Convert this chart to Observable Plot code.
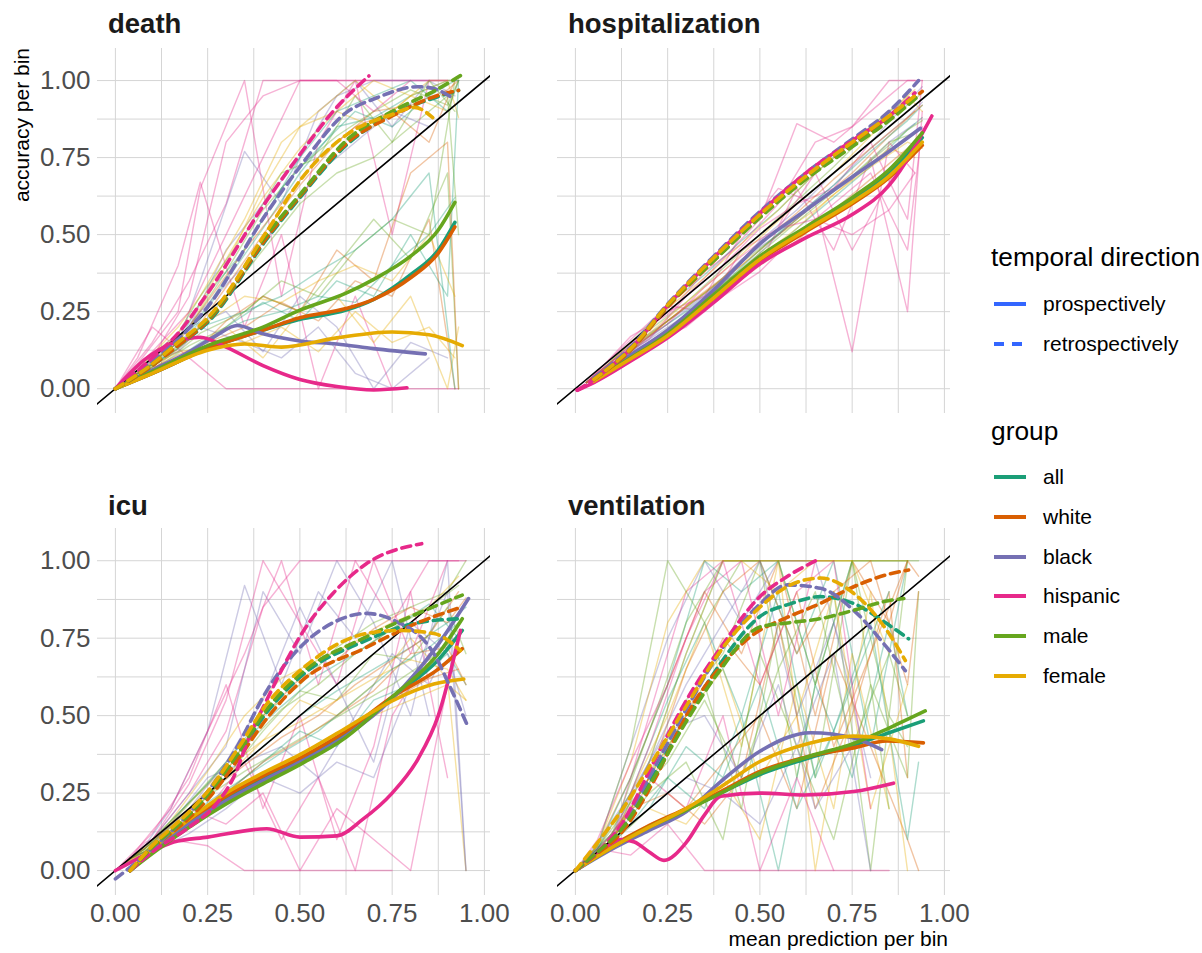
<!DOCTYPE html>
<html><head><meta charset="utf-8">
<script src="https://cdn.jsdelivr.net/npm/d3@7"></script>
<script src="https://cdn.jsdelivr.net/npm/@observablehq/plot@0.6"></script>
<style>
body{margin:0;background:#fff;font-family:"Liberation Sans",Arial,sans-serif}
#root{position:relative;width:1202px;height:953px;overflow:hidden;background:#fff}
.panel{position:absolute}
#overlay{position:absolute;left:0;top:0;pointer-events:none}
</style></head><body><div id="root"></div>
<script>
// ---------- categories / labels ----------
const groups = ["all","white","black","hispanic","male","female"];
const groupColors = ["#1B9E77","#D95F02","#7570B3","#E7298A","#66A61E","#E6AB02"];
const directions = ["prospectively","retrospectively"];
const outcomes = ["death","hospitalization","icu","ventilation"];
const tickValues = [0,0.25,0.5,0.75,1];
const tickLabels = ["0.00","0.25","0.50","0.75","1.00"];
const gridValues = [0,0.125,0.25,0.375,0.5,0.625,0.75,0.875,1];
const diagonal = [[-0.2,-0.2],[1.2,1.2]];
const xLabel = "mean prediction per bin";
const yLabel = "accuracy per bin";
const legendTitleDir = "temporal direction";
const legendTitleGroup = "group";

// ---------- thin per-model calibration curves (bins) ----------
const deathBins = {a:[0,0.1,0.2,0.3,0.4,0.5,0.6,0.7,0.8,0.9,0.93], b:[0,0.06,0.17,0.23,0.35,0.45,0.55,0.65,0.75,0.85,0.92]};
const deathThin = [
 ["hispanic","a",[0,0.15,0.35,0.6,1,1,1,1,1,1,null]],
 ["hispanic","a",[0,0.1,0.3,0.8,0.95,1,1,1,1,null,null]],
 ["hispanic","a",[0,0.2,0.1,0,0,0,0,0,0,0,0]],
 ["hispanic","b",[0,0.1,0.4,0.67,0.2,0.5,0,0.3,0,null,null]],
 ["hispanic","b",[0,0.08,0.25,0.65,1,0.3,0.8,1,0.5,1,null]],
 ["black","b",[0,0.05,0.15,0.35,0.77,0.6,0.9,1,0.85,1,0.95]],
 ["black","a",[0,0.1,0.2,0.25,0.12,0.3,0.2,0,0.15,0.1,null]],
 ["black","a",[0,0.08,0.2,0.45,0.6,0.75,0.95,1,1,1,1]],
 ["all","a",[0,0.07,0.17,0.35,0.52,0.7,0.85,0.88,0.95,1,1]],
 ["all","b",[0,0.04,0.1,0.15,0.22,0.25,0.3,0.28,0.4,0.5,0.62]],
 ["white","a",[0,0.06,0.16,0.33,0.5,0.66,0.8,0.9,0.92,0.97,1]],
 ["white","b",[0,0.04,0.11,0.14,0.2,0.28,0.22,0.35,0.3,0.55,0]],
 ["male","a",[0,0.08,0.2,0.38,0.58,0.72,0.82,0.9,0.97,0.92,1]],
 ["male","b",[0,0.05,0.12,0.18,0.25,0.35,0.3,0.45,0.55,0.5,1]],
 ["male","a",[0,0.06,0.14,0.2,0.3,0.25,0.4,0.55,0.42,0.7,0]],
 ["female","a",[0,0.09,0.22,0.42,0.62,0.78,0.9,0.85,0.95,1,0.88]],
 ["female","b",[0,0.05,0.12,0.13,0.15,0.2,0.12,0.25,0.15,0.2,0.1]],
 ["female","a",[0,0.05,0.12,0.2,0.1,0.25,0.3,0.15,0.3,0,0.2]],
 ["female","b",[0,0.06,0.2,0.3,0.55,0.8,0.9,1,0.9,1,1]],
 ["all","a",[0,0.06,0.12,0.2,0.28,0.22,0.35,0.3,0.5,0.3,1]],
 ["white","a",[0,0.07,0.1,0.22,0.3,0.25,0.45,0.35,0.7,0.8,0]],
 ["male","b",[0,0.07,0.18,0.3,0.5,0.7,0.75,0.95,0.8,1,0.9]],
 ["all","b",[0,0.06,0.15,0.28,0.45,0.65,0.78,0.9,0.85,0.95,1]],
 ["black","b",[0,0.07,0.12,0.2,0.15,0.1,0.2,0.05,0,0.1,null]],
 ["female","a",[0,0.08,0.2,0.4,0.65,0.85,0.9,1,0.95,0.9,1]],
 ["all","a",[0,0.08,0.18,0.36,0.55,0.75,0.9,0.95,1,0.9,1]],
 ["white","b",[0,0.05,0.15,0.25,0.45,0.6,0.75,0.85,0.9,0.8,1]],
 ["male","a",[0,0.07,0.16,0.3,0.45,0.6,0.7,0.75,0.85,0.95,0.5]],
 ["female","b",[0,0.05,0.14,0.2,0.3,0.28,0.35,0.4,0.35,0.5,0.3]],
 ["all","b",[0,0.05,0.13,0.2,0.25,0.3,0.38,0.45,0.55,0.7,0]],
 ["hispanic","a",[0,0.12,0.25,0.5,0.75,1,1,0.9,1,1,null]],
 ["black","b",[0,0.06,0.16,0.25,0.4,0.55,0.7,0.8,0.9,0.85,null]]
];

const hospBins = {a:[0.03,0.1,0.2,0.3,0.4,0.5,0.6,0.7,0.8,0.9,0.94], b:[0.03,0.08,0.15,0.25,0.35,0.45,0.55,0.65,0.75,0.85,0.92]};
const hospThin = [
 ["all","a",[0.02,0.07,0.14,0.23,0.31,0.41,0.52,0.62,0.72,0.84,0.88]],
 ["white","b",[0.02,0.06,0.12,0.22,0.31,0.4,0.5,0.6,0.7,0.82,0.9]],
 ["male","a",[0.02,0.09,0.19,0.28,0.39,0.5,0.61,0.72,0.84,0.92,0.96]],
 ["female","b",[0.02,0.06,0.13,0.22,0.31,0.4,0.5,0.58,0.68,0.78,0.75]],
 ["black","a",[0.02,0.08,0.18,0.26,0.35,0.48,0.58,0.7,0.8,0.93,0.98]],
 ["black","b",[0.02,0.06,0.12,0.21,0.3,0.42,0.5,0.6,0.68,0.8,0.86]],
 ["hispanic","a",[0.02,0.09,0.2,0.3,0.42,0.55,0.86,0.8,0.9,1,1]],
 ["hispanic","b",[0.02,0.07,0.14,0.25,0.3,0.5,0.65,0.6,0.12,0.8,0.7]],
 ["hispanic","a",[0.02,0.07,0.14,0.22,0.35,0.4,0.65,0.45,0.75,0.25,0.9]],
 ["hispanic","b",[0.02,0.08,0.16,0.27,0.25,0.45,0.52,0.7,0.45,0.67,0.8]],
 ["all","b",[0.02,0.07,0.15,0.27,0.37,0.48,0.58,0.7,0.8,0.9,0.95]],
 ["white","a",[0.02,0.07,0.13,0.21,0.31,0.4,0.48,0.58,0.68,0.78,0.82]],
 ["female","a",[0.02,0.08,0.18,0.28,0.38,0.49,0.6,0.7,0.82,0.95,0.9]],
 ["male","b",[0.02,0.06,0.13,0.22,0.31,0.41,0.5,0.6,0.69,0.8,0.83]],
 ["hispanic","a",[0.02,0.09,0.16,0.3,0.4,0.52,0.6,0.65,0.8,0.55,1]],
 ["hispanic","b",[0.02,0.08,0.17,0.24,0.38,0.47,0.6,0.8,0.85,1,1]],
 ["black","a",[0.02,0.08,0.16,0.24,0.33,0.44,0.56,0.66,0.78,0.88,0.93]],
 ["all","a",[0.02,0.08,0.17,0.25,0.34,0.45,0.56,0.66,0.77,0.87,0.92]],
 ["female","b",[0.02,0.07,0.15,0.26,0.36,0.47,0.58,0.7,0.8,0.9,0.97]],
 ["hispanic","a",[0.02,0.08,0.15,0.2,0.3,0.38,0.5,0.6,0.7,0.45,0.85]],
 ["white","a",[0.02,0.08,0.17,0.27,0.36,0.47,0.57,0.68,0.78,0.88,0.92]],
 ["male","a",[0.02,0.07,0.15,0.24,0.34,0.44,0.54,0.64,0.74,0.84,0.87]],
 ["female","a",[0.02,0.07,0.14,0.23,0.33,0.43,0.52,0.63,0.72,0.8,0.78]],
 ["hispanic","b",[0.02,0.07,0.13,0.21,0.33,0.43,0.52,0.55,0.5,0.58,0.7]]
];

const icuBins = {a:[0,0.1,0.2,0.3,0.4,0.5,0.6,0.7,0.8,0.9,0.95], b:[0.04,0.08,0.15,0.25,0.35,0.45,0.55,0.65,0.75,0.85,0.93]};
const icuThin = [
 ["hispanic","a",[0,0.1,0.25,0.45,0.85,1,1,1,1,1,null]],
 ["hispanic","b",[0.04,0.06,0.1,0.08,0,0,0,0,0,null,null]],
 ["hispanic","a",[0,0.12,0.3,0.6,0.2,0.5,0.1,0.4,0.9,0.3,null]],
 ["black","a",[0,0.1,0.25,0.4,0.9,0.7,1,0.8,0.5,1,0]],
 ["black","b",[0.04,0.06,0.15,0.3,0.35,0.4,0.3,0.5,0.7,0.6,0.8]],
 ["all","a",[0,0.09,0.2,0.3,0.4,0.5,0.58,0.65,0.72,0.8,0.85]],
 ["white","b",[0.04,0.06,0.14,0.25,0.34,0.43,0.5,0.6,0.68,0.76,0.9]],
 ["female","a",[0,0.09,0.22,0.33,0.42,0.55,0.5,0.6,0.75,0.62,0]],
 ["male","a",[0,0.1,0.22,0.35,0.5,0.6,0.72,0.8,0.85,0.9,1]],
 ["male","b",[0.04,0.06,0.14,0.24,0.32,0.39,0.46,0.53,0.6,0.68,0.76]],
 ["female","b",[0.04,0.07,0.16,0.32,0.5,0.62,0.68,0.74,0.8,0.85,0.95]],
 ["all","b",[0.04,0.07,0.16,0.28,0.42,0.53,0.63,0.7,0.78,0.86,0.75]],
 ["hispanic","b",[0.04,0.09,0.13,0.2,0.35,0.1,0.3,0,0.5,0.7,null]],
 ["black","b",[0.04,0.08,0.2,0.45,0.92,0.6,0.9,0.75,1,0.5,null]],
 ["white","a",[0,0.09,0.2,0.32,0.5,0.62,0.68,0.78,0.85,0.8,0.88]],
 ["female","a",[0,0.07,0.15,0.22,0.3,0.35,0.42,0.5,0.55,0.6,0.55]],
 ["hispanic","a",[0,0.1,0.2,0.15,0.25,0,0.2,0.1,0,0.6,null]],
 ["male","a",[0,0.08,0.18,0.3,0.45,0.58,0.55,0.7,0.68,0.85,0.7]],
 ["all","a",[0,0.07,0.16,0.25,0.35,0.45,0.4,0.55,0.6,0.7,0.6]],
 ["hispanic","b",[0.04,0.1,0.2,0.45,0.7,1,0.6,1,0.8,1,1]],
 ["black","a",[0,0.06,0.12,0.2,0.3,0.25,0.35,0.3,0.6,0.9,0]],
 ["white","b",[0.04,0.05,0.12,0.2,0.27,0.33,0.4,0.48,0.55,0.62,0.65]],
 ["female","a",[0,0.08,0.18,0.3,0.42,0.48,0.55,0.62,0.68,0.65,0.55]],
 ["male","b",[0.04,0.07,0.15,0.28,0.4,0.52,0.6,0.7,0.78,0.85,0.92]],
 ["white","a",[0,0.07,0.15,0.25,0.35,0.42,0.5,0.58,0.7,0.72,0.6]],
 ["all","b",[0.04,0.06,0.12,0.22,0.3,0.38,0.45,0.55,0.65,0.72,0.8]],
 ["black","a",[0,0.1,0.2,0.35,0.55,0.85,0.6,0.35,0.8,0.7,0.5]],
 ["hispanic","a",[0,0.1,0.28,0.55,1,0.8,0.6,1,0.7,1,1]]
];

const ventBins = {a:[0,0.1,0.2,0.3,0.4,0.5,0.6,0.7,0.8,0.9,0.93], b:[0,0.06,0.15,0.25,0.35,0.45,0.55,0.65,0.75,0.85,0.9]};
const ventThin = [
 ["hispanic","a",[0,0.1,0.5,0.9,1,1,1,1,null,null,null]],
 ["black","b",[0,0.08,0.4,0.75,1,0.8,1,1,0.6,null,null]],
 ["all","a",[0,0.1,0.35,0.7,1,1,0.7,1,0.4,1,null]],
 ["white","b",[0,0.08,0.3,0.6,0.9,0.7,1,0.5,1,0.8,1]],
 ["male","a",[0,0.1,0.3,0.55,0.7,1,0.3,0.9,0,1,1]],
 ["female","b",[0,0.07,0.25,0.5,0.8,0.4,1,0,0.7,0.2,null]],
 ["male","b",[0,0.06,0.2,0.4,0.6,0.2,0.8,0.3,1,0.5,0.4]],
 ["all","b",[0,0.05,0.15,0.3,0.2,0.5,0,0.6,0.3,0.8,0.5]],
 ["hispanic","b",[0,0.07,0.05,0.15,0,0,0,0,0,0,null]],
 ["hispanic","a",[0,0.12,0.3,0.2,0.5,0,0.3,0,null,null,null]],
 ["white","a",[0,0.08,0.15,0.2,0.35,0.5,0.2,0.7,0.4,0.1,0]],
 ["female","a",[0,0.09,0.2,0.15,0.3,0.1,0.6,0.2,0.9,0,null]],
 ["male","a",[0,0.1,0.25,0.35,0.1,0.7,0.4,0.1,0.6,0.3,0.9]],
 ["all","b",[0,0.07,0.3,0.6,1,0.9,1,0.6,1,1,1]],
 ["black","a",[0,0.1,0.2,0.3,0.25,0.15,0.4,0.7,0,null,null]],
 ["female","b",[0,0.08,0.35,0.8,1,1,0.9,1,1,0.7,null]],
 ["white","b",[0,0.06,0.2,0.25,0.15,0.3,0.8,0.2,0.5,0.9,0.3]],
 ["male","b",[0,0.08,0.4,1,0.8,1,1,0.6,1,0.2,null]],
 ["male","a",[0,0.12,0.45,0.8,1,1,1,1,1,1,null]],
 ["all","a",[0,0.09,0.2,0.4,0.3,0.6,0.2,0.45,0.8,0.1,0.35]],
 ["female","a",[0,0.1,0.3,0.5,0.65,0.3,0.5,0.9,0.2,0.6,null]],
 ["hispanic","b",[0,0.1,0.35,0.6,0.9,1,0.5,1,null,null,null]],
 ["white","a",[0,0.1,0.28,0.5,0.75,0.6,0.9,0.4,0.7,1,0.95]],
 ["black","b",[0,0.09,0.25,0.45,0.5,0.3,0.6,0.2,0.4,null,null]],
 ["female","a",[0,0.1,0.35,0.7,1,1,1,1,1,1,null]],
 ["all","b",[0,0.07,0.25,0.55,0.8,0.5,0.9,0.3,0.6,0.9,null]],
 ["male","b",[0,0.07,0.22,0.35,0.55,0.3,0.65,0.9,0.4,0.7,0.5]],
 ["white","a",[0,0.1,0.3,0.65,0.9,1,0.7,0.9,1,0.6,0.9]],
 ["hispanic","a",[0,0.1,0.4,0.75,1,0.6,0.9,1,0.2,null,null]],
 ["black","a",[0,0.12,0.35,0.6,0.8,1,0.5,0.8,0.3,null,null]]
];

// ---------- smoothed group curves ----------
const deathSmooth = [
 ["all","prospectively",[[0,0],[0.1,0.05],[0.25,0.13],[0.4,0.19],[0.5,0.225],[0.625,0.255],[0.7,0.29],[0.8,0.37],[0.875,0.45],[0.92,0.54]]],
 ["white","prospectively",[[0,0],[0.1,0.05],[0.25,0.13],[0.4,0.19],[0.5,0.23],[0.625,0.26],[0.7,0.29],[0.8,0.36],[0.875,0.44],[0.92,0.525]]],
 ["black","prospectively",[[0,0],[0.1,0.06],[0.2,0.12],[0.27,0.17],[0.33,0.205],[0.4,0.178],[0.5,0.155],[0.6,0.145],[0.7,0.13],[0.84,0.113]]],
 ["hispanic","prospectively",[[0,0],[0.08,0.095],[0.15,0.145],[0.23,0.167],[0.3,0.135],[0.4,0.075],[0.5,0.03],[0.6,0.007],[0.7,-0.004],[0.79,0.003]]],
 ["male","prospectively",[[0,0],[0.1,0.055],[0.25,0.14],[0.4,0.2],[0.5,0.255],[0.625,0.31],[0.7,0.355],[0.8,0.43],[0.875,0.515],[0.92,0.605]]],
 ["female","prospectively",[[0,0],[0.1,0.05],[0.25,0.125],[0.35,0.145],[0.45,0.135],[0.6,0.165],[0.75,0.184],[0.85,0.175],[0.94,0.14]]],
 ["all","retrospectively",[[0,0],[0.1,0.075],[0.17,0.14],[0.25,0.215],[0.41,0.485],[0.5,0.62],[0.63,0.795],[0.75,0.89],[0.87,0.946],[0.93,0.968]]],
 ["white","retrospectively",[[0,0],[0.1,0.075],[0.17,0.14],[0.25,0.22],[0.41,0.49],[0.5,0.625],[0.63,0.8],[0.75,0.885],[0.87,0.95],[0.93,0.968]]],
 ["black","retrospectively",[[0,0],[0.1,0.09],[0.17,0.16],[0.25,0.265],[0.41,0.57],[0.5,0.72],[0.63,0.9],[0.7,0.94],[0.82,0.98],[0.86,0.975],[0.91,0.946]]],
 ["hispanic","retrospectively",[[0,0],[0.1,0.1],[0.17,0.18],[0.25,0.31],[0.41,0.61],[0.5,0.76],[0.59,0.9],[0.687,1.015]]],
 ["male","retrospectively",[[0,0],[0.1,0.08],[0.17,0.15],[0.25,0.225],[0.41,0.5],[0.5,0.63],[0.63,0.81],[0.75,0.9],[0.87,0.97],[0.935,1.016]]],
 ["female","retrospectively",[[0,0],[0.1,0.08],[0.17,0.15],[0.25,0.23],[0.41,0.51],[0.5,0.675],[0.63,0.827],[0.75,0.89],[0.81,0.913],[0.86,0.88]]]
];
const hospSmooth = [
 ["all","prospectively",[[0.05,0.025],[0.15,0.1],[0.25,0.175],[0.375,0.3],[0.5,0.425],[0.625,0.52],[0.75,0.61],[0.85,0.7],[0.94,0.815]]],
 ["white","prospectively",[[0.05,0.022],[0.15,0.095],[0.25,0.17],[0.375,0.29],[0.5,0.415],[0.625,0.51],[0.75,0.6],[0.85,0.685],[0.94,0.79]]],
 ["black","prospectively",[[0.05,0.03],[0.15,0.11],[0.25,0.19],[0.375,0.32],[0.5,0.47],[0.625,0.58],[0.75,0.687],[0.85,0.77],[0.935,0.845]]],
 ["hispanic","prospectively",[[0.005,-0.005],[0.05,0.02],[0.15,0.09],[0.25,0.165],[0.375,0.28],[0.5,0.405],[0.625,0.49],[0.75,0.565],[0.85,0.66],[0.966,0.885]]],
 ["male","prospectively",[[0.05,0.028],[0.15,0.1],[0.25,0.178],[0.375,0.305],[0.5,0.43],[0.625,0.525],[0.75,0.62],[0.85,0.71],[0.94,0.83]]],
 ["female","prospectively",[[0.05,0.024],[0.15,0.097],[0.25,0.172],[0.375,0.295],[0.5,0.42],[0.625,0.515],[0.75,0.605],[0.85,0.69],[0.94,0.8]]],
 ["all","retrospectively",[[0.05,0.03],[0.15,0.13],[0.25,0.27],[0.375,0.42],[0.5,0.565],[0.625,0.69],[0.75,0.795],[0.85,0.88],[0.93,0.955]]],
 ["white","retrospectively",[[0.05,0.03],[0.15,0.125],[0.25,0.265],[0.375,0.415],[0.5,0.56],[0.625,0.685],[0.75,0.79],[0.85,0.88],[0.94,0.965]]],
 ["black","retrospectively",[[0.05,0.035],[0.15,0.135],[0.25,0.275],[0.375,0.43],[0.5,0.575],[0.625,0.7],[0.75,0.81],[0.85,0.9],[0.93,1.0]]],
 ["hispanic","retrospectively",[[0.005,-0.005],[0.05,0.03],[0.15,0.13],[0.25,0.27],[0.375,0.425],[0.5,0.57],[0.625,0.7],[0.75,0.805],[0.85,0.885],[0.92,0.96]]],
 ["male","retrospectively",[[0.05,0.03],[0.15,0.13],[0.25,0.27],[0.375,0.415],[0.5,0.555],[0.625,0.68],[0.75,0.785],[0.85,0.87],[0.93,0.95]]],
 ["female","retrospectively",[[0.05,0.03],[0.15,0.13],[0.25,0.272],[0.375,0.425],[0.5,0.565],[0.625,0.69],[0.75,0.8],[0.85,0.885],[0.93,0.96]]]
];
const icuSmooth = [
 ["all","prospectively",[[0.04,0],[0.1,0.06],[0.2,0.15],[0.3,0.23],[0.4,0.3],[0.5,0.355],[0.625,0.44],[0.75,0.56],[0.875,0.68],[0.94,0.775]]],
 ["white","prospectively",[[0.04,0],[0.1,0.065],[0.2,0.16],[0.3,0.24],[0.4,0.305],[0.5,0.363],[0.625,0.45],[0.75,0.56],[0.875,0.65],[0.94,0.716]]],
 ["black","prospectively",[[0.04,0],[0.1,0.06],[0.2,0.15],[0.3,0.225],[0.4,0.29],[0.5,0.35],[0.625,0.435],[0.75,0.555],[0.875,0.73],[0.957,0.878]]],
 ["hispanic","prospectively",[[0,0],[0.08,0.05],[0.158,0.092],[0.25,0.108],[0.41,0.135],[0.5,0.108],[0.6,0.112],[0.67,0.165],[0.75,0.25],[0.82,0.36],[0.875,0.5],[0.935,0.775]]],
 ["male","prospectively",[[0.04,0],[0.1,0.055],[0.2,0.14],[0.3,0.215],[0.4,0.28],[0.5,0.342],[0.625,0.43],[0.75,0.56],[0.875,0.7],[0.94,0.813]]],
 ["female","prospectively",[[0.04,0],[0.1,0.07],[0.2,0.165],[0.3,0.25],[0.4,0.315],[0.5,0.374],[0.625,0.46],[0.75,0.548],[0.863,0.602],[0.944,0.618]]],
 ["all","retrospectively",[[0.04,0],[0.1,0.075],[0.2,0.18],[0.25,0.24],[0.33,0.37],[0.41,0.51],[0.5,0.624],[0.68,0.743],[0.82,0.8],[0.94,0.813]]],
 ["white","retrospectively",[[0.04,0],[0.1,0.07],[0.2,0.17],[0.25,0.23],[0.33,0.355],[0.41,0.49],[0.5,0.607],[0.68,0.72],[0.82,0.8],[0.94,0.851]]],
 ["black","retrospectively",[[0,-0.027],[0.1,0.07],[0.2,0.185],[0.25,0.255],[0.33,0.4],[0.41,0.58],[0.5,0.72],[0.59,0.8],[0.68,0.83],[0.75,0.81],[0.863,0.7],[0.908,0.59],[0.957,0.46]]],
 ["hispanic","retrospectively",[[0.04,0],[0.1,0.06],[0.2,0.14],[0.27,0.21],[0.32,0.3],[0.366,0.44],[0.41,0.55],[0.456,0.66],[0.5,0.755],[0.59,0.895],[0.68,0.99],[0.83,1.055]]],
 ["male","retrospectively",[[0.04,0],[0.1,0.075],[0.2,0.18],[0.25,0.245],[0.33,0.375],[0.41,0.52],[0.5,0.633],[0.68,0.754],[0.82,0.83],[0.94,0.889]]],
 ["female","retrospectively",[[0.04,0],[0.1,0.08],[0.2,0.19],[0.25,0.255],[0.33,0.39],[0.41,0.537],[0.5,0.645],[0.68,0.765],[0.77,0.775],[0.863,0.765],[0.935,0.71]]]
];
const ventSmooth = [
 ["all","prospectively",[[0,0],[0.1,0.075],[0.2,0.14],[0.3,0.195],[0.394,0.25],[0.5,0.31],[0.637,0.365],[0.754,0.405],[0.85,0.445],[0.943,0.483]]],
 ["white","prospectively",[[0,0],[0.1,0.08],[0.2,0.145],[0.3,0.2],[0.394,0.255],[0.5,0.32],[0.637,0.37],[0.754,0.396],[0.844,0.418],[0.943,0.412]]],
 ["black","prospectively",[[0,0],[0.1,0.07],[0.2,0.13],[0.3,0.19],[0.394,0.287],[0.5,0.385],[0.637,0.445],[0.754,0.428],[0.83,0.39]]],
 ["hispanic","prospectively",[[0,0],[0.06,0.05],[0.123,0.1],[0.16,0.092],[0.2,0.06],[0.24,0.033],[0.3,0.09],[0.35,0.18],[0.394,0.24],[0.5,0.25],[0.62,0.244],[0.754,0.255],[0.862,0.282]]],
 ["male","prospectively",[[0,0],[0.1,0.075],[0.2,0.14],[0.3,0.195],[0.394,0.25],[0.5,0.315],[0.637,0.37],[0.754,0.41],[0.85,0.46],[0.948,0.515]]],
 ["female","prospectively",[[0,0],[0.1,0.075],[0.2,0.14],[0.3,0.2],[0.394,0.27],[0.5,0.352],[0.637,0.412],[0.754,0.434],[0.85,0.425],[0.93,0.401]]],
 ["all","retrospectively",[[0,0],[0.06,0.06],[0.123,0.13],[0.213,0.31],[0.3,0.49],[0.394,0.67],[0.5,0.82],[0.58,0.86],[0.664,0.884],[0.754,0.862],[0.844,0.797],[0.903,0.748]]],
 ["white","retrospectively",[[0,0],[0.06,0.055],[0.123,0.12],[0.213,0.29],[0.3,0.5],[0.394,0.66],[0.48,0.76],[0.58,0.82],[0.664,0.862],[0.754,0.916],[0.844,0.955],[0.903,0.97]]],
 ["black","retrospectively",[[0,0],[0.06,0.06],[0.123,0.14],[0.213,0.33],[0.3,0.52],[0.394,0.71],[0.5,0.86],[0.574,0.922],[0.664,0.911],[0.754,0.84],[0.844,0.72],[0.894,0.645]]],
 ["hispanic","retrospectively",[[0,0],[0.06,0.06],[0.123,0.146],[0.213,0.352],[0.3,0.548],[0.394,0.72],[0.5,0.884],[0.574,0.949],[0.66,1.005]]],
 ["male","retrospectively",[[0,0],[0.06,0.06],[0.123,0.13],[0.213,0.3],[0.3,0.48],[0.394,0.65],[0.5,0.786],[0.58,0.8],[0.664,0.813],[0.754,0.84],[0.844,0.87],[0.89,0.878]]],
 ["female","retrospectively",[[0,0],[0.06,0.09],[0.123,0.19],[0.213,0.36],[0.3,0.53],[0.394,0.71],[0.5,0.85],[0.58,0.92],[0.664,0.944],[0.754,0.895],[0.844,0.775],[0.894,0.678]]]
];

// ---------- layout (not data) ----------
const FONT = '"Liberation Sans", Arial, sans-serif';
const xDomain = [-0.0485, 1.0165];
const yDomain = [-0.0805, 1.104];
const panels = [
  {name:"death", bins:deathBins, thin:deathThin, smooth:deathSmooth, left:0, top:0, width:500, height:420, ml:97, mr:10, mt:48, mb:7, xAxis:false, yAxis:true, tx:108, ty:33},
  {name:"hospitalization", bins:hospBins, thin:hospThin, smooth:hospSmooth, left:520, top:0, width:440, height:420, ml:37, mr:10, mt:48, mb:7, xAxis:false, yAxis:false, tx:568, ty:33},
  {name:"icu", bins:icuBins, thin:icuThin, smooth:icuSmooth, left:0, top:470, width:500, height:483, ml:97, mr:10, mt:58, mb:58, xAxis:true, yAxis:true, tx:108, ty:515},
  {name:"ventilation", bins:ventBins, thin:ventThin, smooth:ventSmooth, left:520, top:470, width:440, height:483, ml:37, mr:10, mt:58, mb:58, xAxis:true, yAxis:false, tx:568, ty:515}
];

const root = document.getElementById("root");
const fmt = d => tickLabels[tickValues.indexOf(d)];

for (const P of panels) {
  const thinData = [];
  P.thin.forEach(([g, grid, ys], i) => ys.forEach((y, j) => thinData.push({id: i, g, x: P.bins[grid][j], y})));
  const smoothData = [];
  P.smooth.forEach(([g, d, pts], i) => pts.forEach(([x, y]) => smoothData.push({id: i, g, d, x, y})));
  const marks = [
    Plot.ruleX(gridValues, {stroke: "#d5d5d5", strokeWidth: 1}),
    Plot.ruleY(gridValues, {stroke: "#d5d5d5", strokeWidth: 1}),
    Plot.line(thinData, {x: "x", y: "y", z: "id", stroke: "g", strokeWidth: 1.4, strokeOpacity: 0.36}),
    Plot.line(diagonal, {x: d => d[0], y: d => d[1], stroke: "#000", strokeWidth: 1.6, clip: true}),
    Plot.line(smoothData.filter(d => d.d === directions[0]), {x: "x", y: "y", z: "id", stroke: "g", strokeWidth: 3.6, curve: "monotone-x"}),
    Plot.line(smoothData.filter(d => d.d === directions[1]), {x: "x", y: "y", z: "id", stroke: "g", strokeWidth: 3.6, strokeDasharray: "9,6", curve: "monotone-x"})
  ];
  if (P.yAxis) marks.push(Plot.axisY(tickValues, {tickSize: 0, tickPadding: 7, tickFormat: fmt, fontSize: 26, label: null}));
  if (P.xAxis) marks.push(Plot.axisX(tickValues, {tickSize: 0, tickPadding: 8, tickFormat: fmt, fontSize: 26, label: null}));
  const chart = Plot.plot({
    width: P.width, height: P.height,
    marginLeft: P.ml, marginRight: P.mr, marginTop: P.mt, marginBottom: P.mb,
    x: {domain: xDomain, axis: null},
    y: {domain: yDomain, axis: null},
    color: {domain: groups, range: groupColors},
    style: {overflow: "visible", fontFamily: FONT, color: "#4d4d4d", background: "transparent"},
    marks
  });
  chart.classList.add("panel");
  chart.style.left = P.left + "px";
  chart.style.top = P.top + "px";
  root.appendChild(chart);
}

// ---------- text overlay: facet titles, axis titles, legends ----------
const svg = d3.select(root).append("svg").attr("id", "overlay").attr("width", 1202).attr("height", 953)
  .style("font-family", FONT);
for (const P of panels) {
  svg.append("text").attr("x", P.tx).attr("y", P.ty).attr("font-size", 27.5).attr("font-weight", "bold")
    .attr("fill", "#1a1a1a").text(P.name);
}
svg.append("text").attr("transform", "translate(28.5,48) rotate(-90)").attr("text-anchor", "end")
  .attr("font-size", 21).attr("fill", "#000").text(yLabel);
svg.append("text").attr("x", 948).attr("y", 946).attr("text-anchor", "end")
  .attr("font-size", 21).attr("fill", "#000").text(xLabel);

// legend: temporal direction
svg.append("text").attr("x", 991).attr("y", 266).attr("font-size", 26.3).attr("fill", "#000").text(legendTitleDir);
const dirY = [304, 344];
directions.forEach((d, i) => {
  svg.append("line").attr("x1", 994).attr("x2", 1026).attr("y1", dirY[i]).attr("y2", dirY[i])
    .attr("stroke", "#3366FF").attr("stroke-width", 4).attr("stroke-dasharray", i ? "10,8" : null);
  svg.append("text").attr("x", 1043).attr("y", dirY[i] + 7).attr("font-size", 21).attr("fill", "#000").text(d);
});
// legend: group
svg.append("text").attr("x", 991).attr("y", 440).attr("font-size", 26.3).attr("fill", "#000").text(legendTitleGroup);
const grpY = [477, 517, 557, 596, 636, 676];
groups.forEach((g, i) => {
  svg.append("line").attr("x1", 994).attr("x2", 1026).attr("y1", grpY[i]).attr("y2", grpY[i])
    .attr("stroke", groupColors[i]).attr("stroke-width", 4);
  svg.append("text").attr("x", 1043).attr("y", grpY[i] + 7).attr("font-size", 21).attr("fill", "#000").text(g);
});
</script>
</body></html>
